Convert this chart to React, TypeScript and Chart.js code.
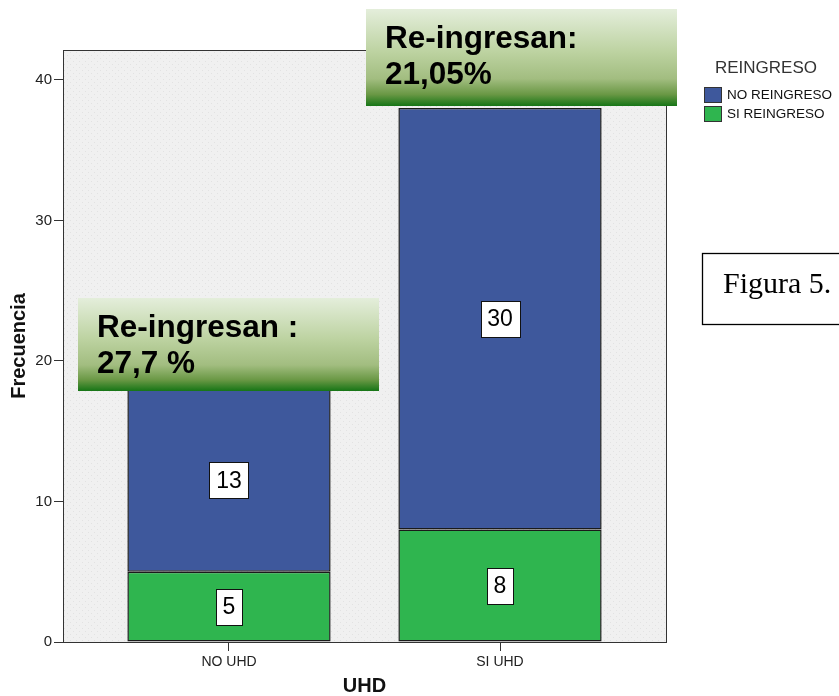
import { useEffect, useRef } from "react";
import { Chart, registerables } from "chart.js";

Chart.register(...registerables);

// ---- data ----
const categories = ["NO UHD", "SI UHD"];
const siReingreso = [5, 8];
const noReingreso = [13, 30];
const seriesNames = ["SI REINGRESO", "NO REINGRESO"];
const yTicks = [0, 10, 20, 30, 40];
const calloutLines = [
  ["Re-ingresan :", "27,7 %"],
  ["Re-ingresan:", "21,05%"],
];
const legendTitle = "REINGRESO";
const figureCaption = "Figura 5.";

// ---- styling ----
const SANS = '"Liberation Sans", Arial, Helvetica, sans-serif';
const SERIF = '"Liberation Serif", "Times New Roman", serif';
const seriesColors = ["#2fb54f", "#3e589c"];
const LINE = "#333333";

// callout geometry, relative to the top of each stacked bar
const calloutShiftX = [0, 21];
const calloutWidth = [301, 311];
const calloutHeight = [93, 97];
const calloutBottomShift = [2, -2];

function makeDotPattern(ctx: CanvasRenderingContext2D, base: string, dot: string) {
  const tile = document.createElement("canvas");
  tile.width = 6;
  tile.height = 6;
  const t = tile.getContext("2d")!;
  t.fillStyle = base;
  t.fillRect(0, 0, 6, 6);
  t.fillStyle = dot;
  t.fillRect(1, 1, 1, 1);
  t.fillRect(4, 4, 1, 1);
  return ctx.createPattern(tile, "repeat")!;
}

const decorPlugin = {
  id: "spssDecor",
  beforeDraw(chart: any) {
    const { ctx, chartArea: a } = chart;
    ctx.save();
    ctx.fillStyle = makeDotPattern(ctx, "#f0f0f0", "#e2e2e2");
    ctx.fillRect(a.left, a.top, a.right - a.left, a.bottom - a.top);
    ctx.restore();
  },
  afterDatasetsDraw(chart: any) {
    const { ctx, chartArea: a } = chart;
    ctx.save();
    // plot frame
    ctx.strokeStyle = LINE;
    ctx.lineWidth = 1;
    ctx.strokeRect(Math.round(a.left) + 0.5, Math.round(a.top) + 0.5, Math.round(a.right - a.left), Math.round(a.bottom - a.top));

    // value labels in white boxes
    ctx.font = `23px ${SANS}`;
    ctx.textAlign = "center";
    ctx.textBaseline = "middle";
    chart.data.datasets.forEach((ds: any, di: number) => {
      const meta = chart.getDatasetMeta(di);
      meta.data.forEach((bar: any, i: number) => {
        const v = ds.data[i].y;
        const { x, y, base } = bar.getProps(["x", "y", "base"], true);
        const cy = (y + base) / 2;
        const text = String(v);
        const w = Math.round(ctx.measureText(text).width + 13);
        const h = 36;
        const bx = Math.round(x - w / 2);
        const by = Math.round(cy - h / 2);
        ctx.fillStyle = "#ffffff";
        ctx.fillRect(bx, by, w, h);
        ctx.strokeStyle = "#111111";
        ctx.lineWidth = 1;
        ctx.strokeRect(bx + 0.5, by + 0.5, w, h);
        ctx.fillStyle = "#000000";
        ctx.fillText(text, x, cy + 1);
      });
    });
    ctx.restore();
  },
  afterDraw(chart: any) {
    const { ctx } = chart;
    ctx.save();

    // green callouts above each stacked bar
    const topMeta = chart.getDatasetMeta(chart.data.datasets.length - 1);
    topMeta.data.forEach((bar: any, i: number) => {
      const { x, y } = bar.getProps(["x", "y"], true);
      const w = calloutWidth[i];
      const h = calloutHeight[i];
      const left = Math.round(x + calloutShiftX[i] - w / 2);
      const bottom = Math.round(y + calloutBottomShift[i]);
      const top = bottom - h;
      const g = ctx.createLinearGradient(0, top, 0, bottom);
      g.addColorStop(0, "#e4eedb");
      g.addColorStop(0.45, "#bcd2a0");
      g.addColorStop(0.72, "#a2bd80");
      g.addColorStop(0.88, "#6a9845");
      g.addColorStop(1, "#167516");
      ctx.fillStyle = g;
      ctx.fillRect(left, top, w, h);
      ctx.fillStyle = "#000000";
      ctx.font = `bold 31.5px ${SANS}`;
      ctx.textAlign = "left";
      ctx.textBaseline = "middle";
      calloutLines[i].forEach((line, li) => {
        ctx.fillText(line, left + 19, top + 30 + li * 36);
      });
    });

    // legend
    ctx.textBaseline = "middle";
    ctx.textAlign = "left";
    ctx.fillStyle = "#333333";
    ctx.font = `17px ${SANS}`;
    ctx.fillText(legendTitle, 715, 68);
    ctx.font = `13.5px ${SANS}`;
    const order = [1, 0];
    order.forEach((di, k) => {
      const by = 87 + k * 19;
      ctx.fillStyle = seriesColors[di];
      ctx.fillRect(704, by, 18, 16);
      ctx.strokeStyle = "#333333";
      ctx.lineWidth = 1;
      ctx.strokeRect(704.5, by + 0.5, 17, 15);
      ctx.fillStyle = "#111111";
      ctx.fillText(seriesNames[di], 727, by + 8.5);
    });

    // figure caption box
    ctx.strokeStyle = "#000000";
    ctx.lineWidth = 1.3;
    ctx.strokeRect(702.5, 253.5, 160, 71);
    ctx.fillStyle = "#000000";
    ctx.font = `30px ${SERIF}`;
    ctx.textBaseline = "alphabetic";
    ctx.fillText(figureCaption, 723, 293);

    ctx.restore();
  },
};

export default function App() {
  const canvasRef = useRef<HTMLCanvasElement | null>(null);

  useEffect(() => {
    const canvas = canvasRef.current;
    if (!canvas) return;
    const chart = new Chart(canvas, {
      type: "bar",
      data: {
        datasets: [
          {
            label: seriesNames[0],
            data: siReingreso.map((v, i) => ({ x: i, y: v })),
            backgroundColor: seriesColors[0],
            borderColor: "#1a1a1a",
            borderWidth: 1.5,
            borderSkipped: false,
            barPercentage: 0.75,
            categoryPercentage: 1,
          },
          {
            label: seriesNames[1],
            data: noReingreso.map((v, i) => ({ x: i, y: v })),
            backgroundColor: seriesColors[1],
            borderColor: "#1a1a1a",
            borderWidth: 1.5,
            borderSkipped: false,
            barPercentage: 0.75,
            categoryPercentage: 1,
          },
        ] as any,
      },
      options: {
        responsive: false,
        animation: false,
        devicePixelRatio: 1,
        layout: { padding: { left: 0, top: 50, right: 173, bottom: 0 } },
        plugins: { legend: { display: false }, tooltip: { enabled: false } },
        scales: {
          x: {
            type: "linear",
            stacked: true,
            offset: false,
            min: -0.6125,
            max: 1.6125,
            afterBuildTicks: (s: any) => {
              s.ticks = categories.map((_, i) => ({ value: i }));
            },
            afterFit: (s: any) => {
              s.height = 54;
            },
            ticks: {
              callback: (v: any) => categories[v] ?? "",
              font: { family: SANS, size: 14 },
              color: "#222222",
              padding: 3,
              maxRotation: 0,
              autoSkip: false,
            },
            grid: {
              display: true,
              offset: false,
              drawOnChartArea: false,
              drawTicks: true,
              tickLength: 9,
              color: LINE,
              tickColor: LINE,
            },
            border: { display: true, color: LINE, width: 1 },
            title: {
              display: true,
              text: "UHD",
              font: { family: SANS, size: 20, weight: "bold", lineHeight: 1 },
              color: "#111111",
              padding: { top: 0, bottom: 0 },
            },
          },
          y: {
            stacked: true,
            min: 0,
            max: 42.13,
            afterBuildTicks: (s: any) => {
              s.ticks = yTicks.map((v) => ({ value: v }));
            },
            afterFit: (s: any) => {
              s.width = 63;
            },
            ticks: { font: { family: SANS, size: 15 }, color: "#222222", padding: 2 },
            grid: { display: true, drawOnChartArea: false, drawTicks: true, tickLength: 9, color: LINE, tickColor: LINE },
            border: { display: true, color: LINE, width: 1 },
            title: {
              display: true,
              text: "Frecuencia",
              font: { family: SANS, size: 20, weight: "bold", lineHeight: 1.2 },
              color: "#111111",
              padding: { top: 7, bottom: 0 },
            },
          },
        },
      } as any,
      plugins: [decorPlugin],
    });
    return () => chart.destroy();
  }, []);

  return (
    <div style={{ position: "absolute", left: 0, top: 0, width: 839, height: 696, background: "#ffffff" }}>
      <canvas ref={canvasRef} width={839} height={696} style={{ display: "block", width: 839, height: 696 }} />
    </div>
  );
}
